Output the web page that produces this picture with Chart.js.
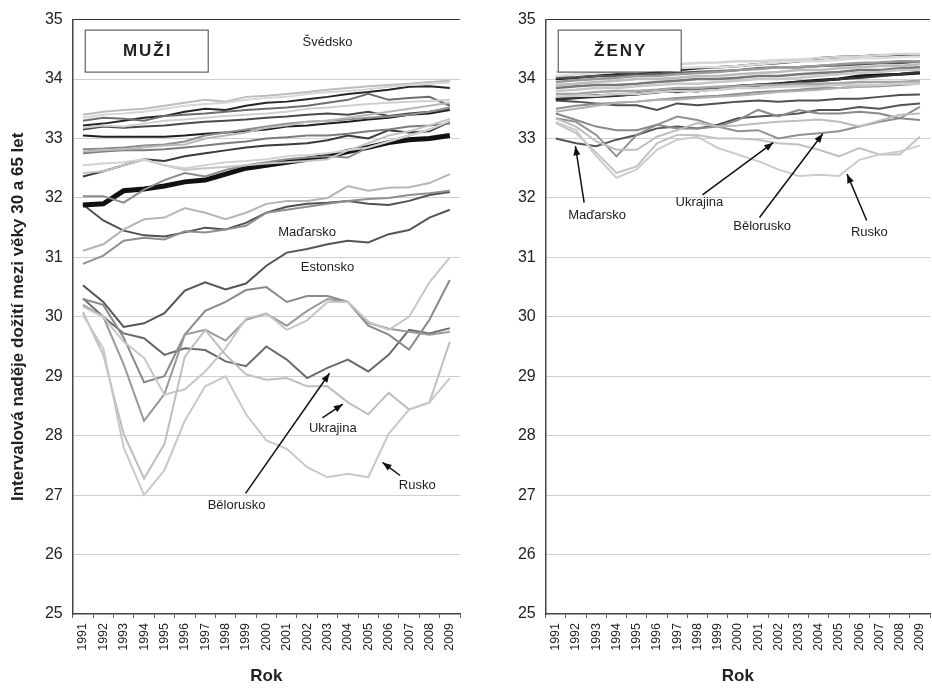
<!DOCTYPE html>
<html>
<head>
<meta charset="utf-8">
<script src="https://cdn.jsdelivr.net/npm/chart.js@4"></script>
<style>
html, body { margin: 0; padding: 0; background: #fff; overflow: hidden; }
#wrap { position: relative; width: 932px; height: 689px; overflow: hidden; }
#muziChart { position: absolute; left: 0; top: 0; }
#zenyChart { position: absolute; left: 470px; top: 0; }
</style>
</head>
<body>
<div id="wrap">
  <canvas id="muziChart" width="470" height="689"></canvas>
  <canvas id="zenyChart" width="470" height="689"></canvas>
</div>
<script>
const years = ['1991','1992','1993','1994','1995','1996','1997','1998','1999','2000',
               '2001','2002','2003','2004','2005','2006','2007','2008','2009'];

// muži - horní skupina
const mSvedsko = [33.40,33.45,33.48,33.50,33.55,33.60,33.65,33.62,33.70,33.72,33.75,33.78,33.82,33.85,33.88,33.90,33.92,33.95,33.97];
const m02 = [33.35,33.40,33.42,33.45,33.50,33.55,33.58,33.60,33.65,33.68,33.70,33.75,33.78,33.80,33.83,33.87,33.90,33.92,33.94];
const m03 = [33.22,33.25,33.30,33.35,33.38,33.45,33.50,33.48,33.55,33.60,33.62,33.66,33.70,33.75,33.78,33.82,33.87,33.88,33.85];
const m04 = [33.30,33.35,33.33,33.30,33.38,33.40,33.42,33.45,33.48,33.50,33.52,33.55,33.60,33.65,33.75,33.65,33.68,33.70,33.55];
const m05 = [33.18,33.22,33.20,33.25,33.30,33.32,33.35,33.38,33.40,33.42,33.45,33.50,33.52,33.55,33.58,33.60,33.62,33.63,33.65];
const m06 = [33.15,33.20,33.18,33.20,33.22,33.25,33.28,33.30,33.32,33.35,33.37,33.40,33.42,33.40,33.45,33.38,33.42,33.45,33.50];
const m07 = [33.05,33.03,33.03,33.03,33.03,33.05,33.08,33.10,33.12,33.15,33.20,33.22,33.25,33.28,33.32,33.35,33.40,33.42,33.48];
const m08 = [32.82,32.83,32.85,32.88,32.90,32.95,33.05,33.10,33.15,33.20,33.25,33.28,33.30,33.32,33.35,33.37,33.40,33.45,33.52];
const m09 = [32.78,32.80,32.82,32.85,32.88,32.90,33.00,33.05,33.10,33.18,33.22,33.28,33.30,33.35,33.40,33.45,33.50,33.55,33.60];
const m10 = [32.75,32.78,32.80,32.80,32.82,32.85,32.88,32.92,32.95,33.00,33.02,33.05,33.05,33.08,33.12,33.15,33.20,33.22,33.25];
const m11 = [32.55,32.58,32.60,32.65,32.55,32.50,32.55,32.60,32.62,32.65,32.70,32.72,32.75,32.80,32.85,32.95,33.05,33.15,33.30];
const m12 = [32.42,32.45,32.55,32.64,32.55,32.47,32.50,32.52,32.55,32.58,32.60,32.62,32.65,32.80,32.92,33.05,33.12,33.22,33.33];
const m13 = [32.36,32.45,32.55,32.65,32.62,32.70,32.75,32.80,32.85,32.88,32.90,32.92,32.97,33.05,33.00,33.14,33.10,33.12,33.28];
const m14 = [32.03,32.03,31.92,32.14,32.30,32.42,32.36,32.47,32.55,32.60,32.65,32.68,32.70,32.68,32.85,32.95,33.05,33.15,33.28];
const mCesko = [31.88,31.90,32.12,32.15,32.20,32.27,32.30,32.40,32.50,32.55,32.60,32.65,32.70,32.78,32.85,32.93,32.98,33.00,33.05];
// muži - dolní skupina
const mMadarsko = [31.89,31.62,31.45,31.37,31.35,31.42,31.50,31.47,31.58,31.75,31.85,31.90,31.92,31.95,31.90,31.88,31.95,32.05,32.10];
const m16 = [31.11,31.22,31.47,31.64,31.67,31.83,31.75,31.64,31.75,31.90,31.95,31.95,32.00,32.20,32.12,32.17,32.18,32.25,32.40];
const m17 = [30.89,31.03,31.28,31.33,31.30,31.44,31.42,31.47,31.53,31.75,31.80,31.85,31.90,31.95,31.98,32.00,32.05,32.08,32.12];
const mEstonsko = [30.53,30.25,29.83,29.89,30.06,30.44,30.58,30.46,30.56,30.86,31.08,31.14,31.22,31.28,31.25,31.39,31.46,31.67,31.80];
const m19 = [30.30,30.20,29.65,28.90,29.00,29.70,30.10,30.25,30.45,30.50,30.25,30.35,30.35,30.25,29.85,29.70,29.45,29.95,30.62];
const m20 = [30.20,30.00,29.20,28.25,28.70,29.70,29.78,29.60,29.95,30.05,29.85,30.10,30.30,30.25,29.90,29.80,29.75,29.70,29.75];
const m21 = [30.17,30.00,29.58,29.31,28.69,28.78,29.08,29.47,29.97,30.06,29.78,29.94,30.25,30.25,29.92,29.78,30.00,30.58,31.00];
const mBelorusko = [30.31,30.00,29.72,29.64,29.36,29.47,29.44,29.25,29.17,29.50,29.28,28.97,29.14,29.28,29.08,29.36,29.78,29.72,29.81];
const mUkrajina = [30.08,29.36,28.03,27.28,27.86,29.33,29.78,29.36,29.03,28.94,28.97,28.83,28.83,28.56,28.36,28.72,28.44,28.56,29.58];
const mRusko = [30.03,29.47,27.80,27.00,27.42,28.25,28.83,29.00,28.36,27.92,27.78,27.47,27.30,27.36,27.30,28.03,28.44,28.56,28.97];

// ženy
const z01 = [34.12,34.15,34.15,34.18,34.20,34.22,34.25,34.27,34.28,34.30,34.30,34.32,34.33,34.35,34.37,34.38,34.40,34.42,34.42];
const z02 = [34.05,34.08,34.10,34.12,34.12,34.15,34.18,34.20,34.20,34.22,34.25,34.28,34.30,34.30,34.32,34.35,34.35,34.37,34.38];
const z03 = [34.00,34.02,34.05,34.08,34.10,34.12,34.15,34.18,34.20,34.22,34.25,34.27,34.30,34.35,34.37,34.38,34.40,34.40,34.40];
const z04 = [34.02,34.03,34.05,34.05,34.07,34.08,34.10,34.12,34.13,34.15,34.18,34.20,34.20,34.22,34.23,34.25,34.27,34.27,34.30];
const z05 = [33.95,33.98,34.00,34.02,34.05,34.05,34.08,34.10,34.12,34.15,34.17,34.20,34.20,34.22,34.25,34.27,34.28,34.30,34.30];
const z06 = [33.90,33.92,33.95,33.97,34.00,34.00,34.02,34.05,34.05,34.08,34.10,34.12,34.15,34.15,34.18,34.20,34.22,34.22,34.25];
const z07 = [33.85,33.88,33.90,33.90,33.92,33.95,33.97,34.00,34.00,34.02,34.05,34.05,34.08,34.10,34.12,34.15,34.15,34.18,34.20];
const z08 = [33.80,33.82,33.85,33.85,33.88,33.90,33.92,33.92,33.95,33.97,34.00,34.00,34.02,34.05,34.08,34.10,34.12,34.15,34.15];
const z09 = [33.75,33.75,33.78,33.80,33.80,33.82,33.85,33.85,33.87,33.88,33.90,33.90,33.92,33.92,33.93,33.95,33.95,33.95,33.97];
const z10 = [33.70,33.72,33.72,33.75,33.75,33.78,33.80,33.80,33.82,33.85,33.85,33.87,33.88,33.88,33.90,33.90,33.90,33.92,33.92];
const z11 = [33.65,33.68,33.70,33.72,33.75,33.80,33.78,33.82,33.85,33.88,33.90,33.92,33.95,33.97,34.00,34.02,34.05,34.08,34.12];
const z12 = [33.67,33.70,33.72,33.73,33.75,33.78,33.82,33.80,33.85,33.88,33.90,33.92,33.95,33.98,34.00,34.05,34.07,34.08,34.10];
const z13 = [33.50,33.55,33.58,33.60,33.62,33.65,33.68,33.70,33.72,33.75,33.78,33.80,33.82,33.85,33.85,33.87,33.88,33.90,33.92];
const z14 = [33.45,33.50,33.55,33.60,33.62,33.65,33.65,33.68,33.70,33.72,33.75,33.78,33.80,33.82,33.85,33.87,33.90,33.93,33.95];
const z15 = [33.64,33.62,33.59,33.56,33.56,33.48,33.59,33.56,33.59,33.62,33.64,33.62,33.64,33.64,33.67,33.67,33.70,33.73,33.74];
const z16 = [33.42,33.31,33.20,33.14,33.14,33.23,33.17,33.17,33.20,33.31,33.48,33.37,33.48,33.42,33.42,33.45,33.42,33.34,33.31];
const z17 = [33.34,33.20,32.95,32.81,32.81,33.03,33.14,33.26,33.20,33.22,33.25,33.28,33.30,33.32,33.28,33.20,33.30,33.40,33.42];
const zMadarsko = [33.00,32.92,32.87,32.98,33.06,33.17,33.20,33.17,33.23,33.34,33.37,33.39,33.42,33.48,33.48,33.53,33.50,33.56,33.59];
const zBelorusko = [33.34,33.28,33.06,32.70,33.06,33.23,33.37,33.31,33.20,33.12,33.14,33.00,33.06,33.09,33.12,33.20,33.28,33.34,33.53];
const zUkrajina = [33.26,33.09,32.76,32.42,32.53,32.92,33.06,33.06,33.00,33.00,32.98,32.92,32.90,32.81,32.70,32.84,32.73,32.73,33.03];
const zRusko = [33.28,33.14,32.70,32.34,32.48,32.81,32.98,33.03,32.84,32.73,32.62,32.48,32.37,32.39,32.37,32.64,32.73,32.78,32.88];

// popisky: [text, rok (index), hodnota]
const mNotes = [['Švédsko', 12, 34.62], ['Maďarsko', 11, 31.42], ['Estonsko', 12, 30.83],
                ['Ukrajina', 12.26, 28.13], ['Rusko', 16.4, 27.17], ['Bělorusko', 7.54, 26.83]];
const mArrows = [[11.75, 28.30, 12.75, 28.53], [15.56, 27.33, 14.7, 27.55], [7.98, 27.03, 12.1, 29.05]];
const zNotes = [['Maďarsko', 2.04, 31.70], ['Ukrajina', 7.1, 31.92], ['Bělorusko', 10.2, 31.52], ['Rusko', 15.5, 31.42]];
const zArrows = [[1.4, 31.92, 0.97, 32.87], [7.25, 32.05, 10.75, 32.93], [10.07, 31.67, 13.2, 33.08], [15.37, 31.62, 14.4, 32.40]];

const FONT = "'Liberation Sans', Arial, Helvetica, sans-serif";

function line(data, color, width) {
    return { data: data, borderColor: color, borderWidth: width || 2, pointRadius: 0, fill: false, tension: 0 };
}

const muziSets = [
    line(m02, '#d6d6d6'), line(m05, '#d0d0d0'), line(m11, '#d2d2d2'), line(m12, '#c4c4c4'),
    line(m09, '#b8b8b8'), line(mSvedsko, '#bdbdbd'), line(m04, '#6e6e6e'), line(m08, '#8e8e8e'),
    line(m10, '#7c7c7c'), line(m14, '#8c8c8c'), line(m06, '#4a4a4a'), line(m13, '#3a3a3a'),
    line(m07, '#1e1e1e'), line(m03, '#262626'), line(mCesko, '#111', 5),
    line(m16, '#b5b5b5'), line(m17, '#8f8f8f'), line(mMadarsko, '#505050'),
    line(mRusko, '#c8c8c8'), line(mUkrajina, '#bebebe'), line(m21, '#c6c6c6'),
    line(m20, '#999999'), line(m19, '#8a8a8a'), line(mBelorusko, '#6a6a6a'), line(mEstonsko, '#555555')
];

const zenySets = [
    line(z01, '#d4d4d4', 2.5), line(z02, '#dcdcdc', 2.5), line(z06, '#bbbbbb', 2.5), line(z08, '#c8c8c8', 2.5),
    line(z10, '#cccccc', 2.5), line(z14, '#b0b0b0'), line(z09, '#a5a5a5', 2.5), line(z05, '#999999', 2.5),
    line(z07, '#777777', 2.5), line(z13, '#8f8f8f'), line(z04, '#555555', 2.5), line(z03, '#1a1a1a', 2.5),
    line(z11, '#333333', 2.5), line(z12, '#111111', 3),
    line(zRusko, '#cccccc'), line(zUkrajina, '#c2c2c2'), line(z17, '#bdbdbd'), line(z16, '#8a8a8a'),
    line(zBelorusko, '#909090'), line(z15, '#505050'), line(zMadarsko, '#555555')
];

function drawArrow(ctx, x1, y1, x2, y2) {
    ctx.beginPath();
    ctx.moveTo(x1, y1);
    ctx.lineTo(x2, y2);
    ctx.stroke();
    const a = Math.atan2(y2 - y1, x2 - x1);
    ctx.beginPath();
    ctx.moveTo(x2, y2);
    ctx.lineTo(x2 - 9 * Math.cos(a) + 3.5 * Math.sin(a), y2 - 9 * Math.sin(a) - 3.5 * Math.cos(a));
    ctx.lineTo(x2 - 9 * Math.cos(a) - 3.5 * Math.sin(a), y2 - 9 * Math.sin(a) + 3.5 * Math.cos(a));
    ctx.closePath();
    ctx.fill();
}

function notesPlugin(title, notes, arrows) {
    return {
        id: 'notes',
        afterDatasetsDraw(chart) {
            const ctx = chart.ctx, xs = chart.scales.x, ys = chart.scales.y, area = chart.chartArea;
            ctx.save();
            // rámeček s nadpisem
            const bx = area.left + 12, by = area.top + 10;
            ctx.fillStyle = '#fff';
            ctx.fillRect(bx, by, 123, 42);
            ctx.strokeStyle = '#444';
            ctx.lineWidth = 1;
            ctx.strokeRect(bx + 0.5, by + 0.5, 123, 42);
            ctx.fillStyle = '#222';
            ctx.font = 'bold 17px ' + FONT;
            ctx.letterSpacing = '2px';
            ctx.textAlign = 'center';
            ctx.textBaseline = 'middle';
            ctx.fillText(title, bx + 62 + 1, by + 22);
            ctx.letterSpacing = '0px';
            // popisky zemí
            ctx.font = '13px ' + FONT;
            notes.forEach(n => {
                ctx.fillText(n[0], xs.getPixelForValue(n[1]), ys.getPixelForValue(n[2]));
            });
            ctx.strokeStyle = '#111';
            ctx.fillStyle = '#111';
            ctx.lineWidth = 1.5;
            arrows.forEach(a => {
                drawArrow(ctx, xs.getPixelForValue(a[0]), ys.getPixelForValue(a[1]),
                          xs.getPixelForValue(a[2]), ys.getPixelForValue(a[3]));
            });
            ctx.restore();
        }
    };
}

function makeChart(id, sets, title, notes, arrows, yWidth, padRight, showTitle) {
    return new Chart(document.getElementById(id), {
        type: 'line',
        data: { labels: years, datasets: sets },
        options: {
            responsive: false,
            animation: false,
            layout: { padding: { top: 15.5, right: padRight, left: 0, bottom: 0 } },
            plugins: { legend: { display: false }, tooltip: { enabled: false } },
            scales: {
                x: {
                    offset: true,
                    grid: { offset: true, drawOnChartArea: false, drawTicks: true, tickLength: 4, color: '#666' },
                    border: { color: '#444', width: 1.5 },
                    ticks: { autoSkip: false, maxRotation: 90, minRotation: 90, padding: 5, color: '#222',
                             font: { family: FONT, size: 12.5 } },
                    title: { display: true, text: 'Rok', color: '#222', padding: { top: 0, bottom: 2 },
                             font: { family: FONT, size: 17, weight: 'bold' } },
                    afterFit: s => { s.height = 75; }
                },
                y: {
                    min: 25, max: 35,
                    ticks: { stepSize: 1, padding: 10, color: '#222', font: { family: FONT, size: 16 } },
                    grid: { drawTicks: false, lineWidth: 1,
                            color: c => c.tick.value === 35 ? '#333' : (c.tick.value === 25 ? 'rgba(0,0,0,0)' : '#cfcfcf') },
                    border: { color: '#444', width: 1.5 },
                    title: { display: showTitle, text: 'Intervalová naděje dožití mezi věky 30 a 65 let', color: '#222',
                             padding: { top: 8, bottom: 0 }, font: { family: FONT, size: 17, weight: 'bold' } },
                    afterFit: s => { s.width = yWidth; }
                }
            }
        },
        plugins: [notesPlugin(title, notes, arrows)]
    });
}

makeChart('muziChart', muziSets, 'MUŽI', mNotes, mArrows, 72.7, 6.7, true);
makeChart('zenyChart', zenySets, 'ŽENY', zNotes, zArrows, 75.7, 3.7, false);
</script>
</body>
</html>
